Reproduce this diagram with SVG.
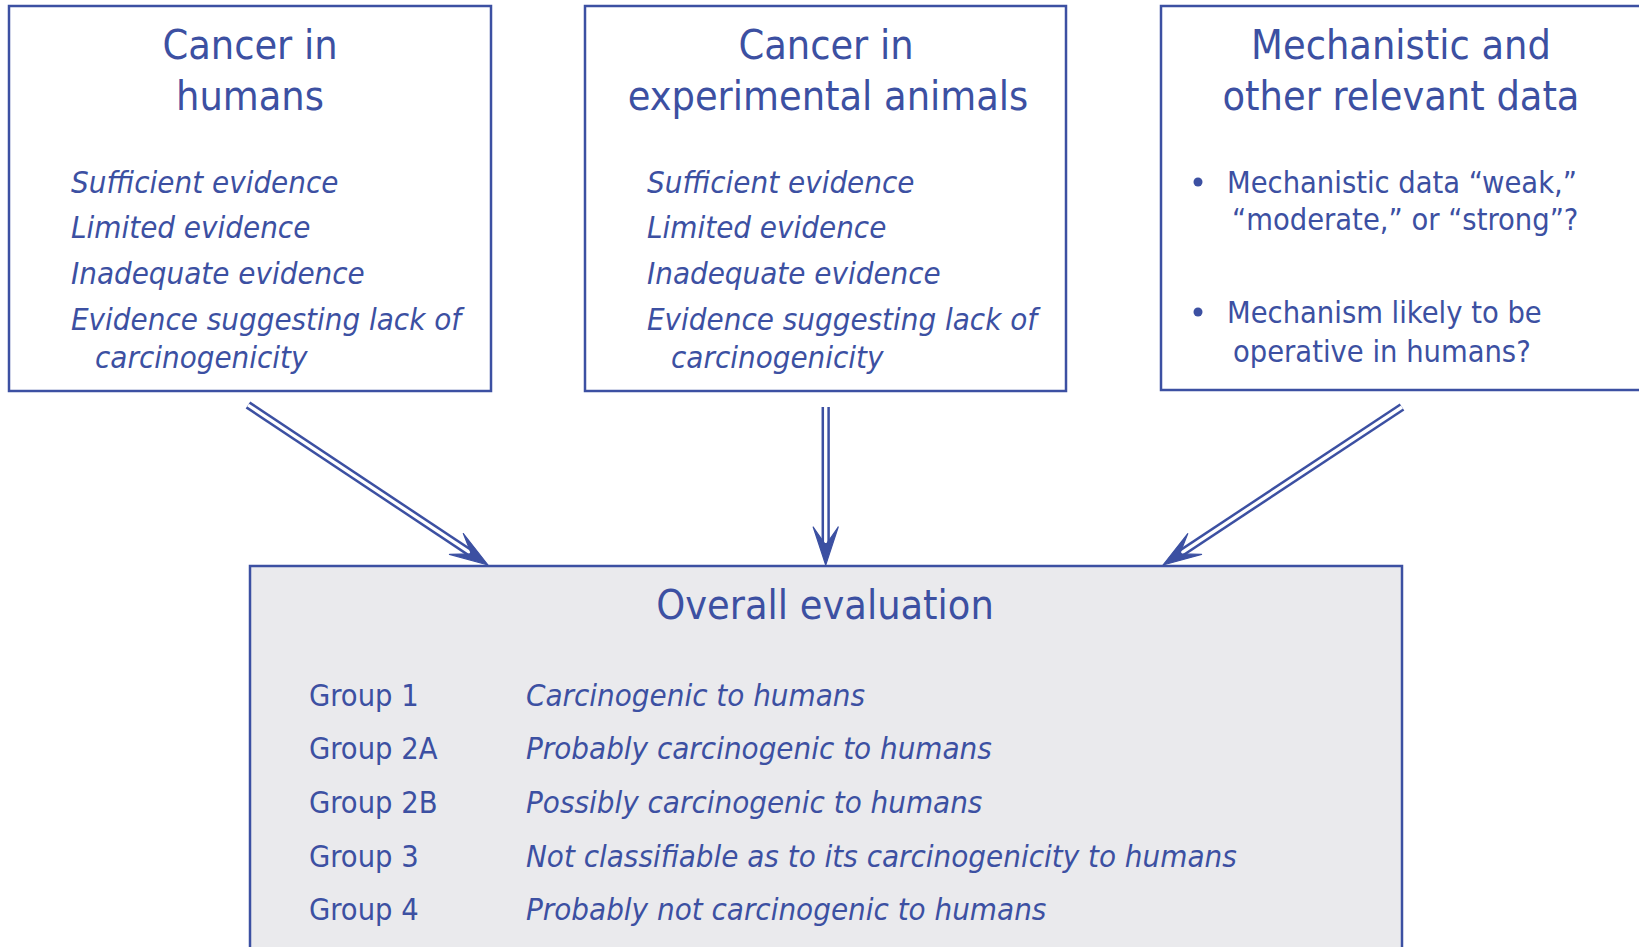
<svg xmlns="http://www.w3.org/2000/svg" width="1639" height="947" viewBox="0 0 1639 947">
<style>
text { font-family: "DejaVu Sans Condensed", "DejaVu Sans", sans-serif; fill: #3C50A2; }
.title { font-size: 41px; text-anchor: middle; }
.it { font-size: 31px; font-style: italic; }
.body { font-size: 30.5px; }
.box { fill: #FFFFFF; stroke: #3C50A2; stroke-width: 2.5; }
.evalbox { fill: #EAEAED; stroke: #3C50A2; stroke-width: 2.5; }
.outer { fill: none; stroke: #3C50A2; stroke-width: 8.3; }
.inner { fill: none; stroke: #FFFFFF; stroke-width: 3.3; }
.head { fill: #3C50A2; stroke: #3C50A2; stroke-width: 1.2; stroke-linejoin: round; }
.dot { fill: #3C50A2; }
</style>
<defs>
<path id="arrowhead" class="head" d="M-38,-12.5 L0,0 L-38,12.5 L-20,0 Z"/>
</defs>
<rect width="1639" height="947" fill="#FFFFFF"/>

<g id="evaluation">
<rect class="evalbox" x="250" y="566" width="1152" height="420"/>
<text class="title" x="825" y="619">Overall evaluation</text>
<text class="body" x="309" y="706">Group 1</text>
<text class="body" x="309" y="759">Group 2A</text>
<text class="body" x="309" y="813">Group 2B</text>
<text class="body" x="309" y="867">Group 3</text>
<text class="body" x="309" y="920">Group 4</text>
<text class="it" x="526" y="706">Carcinogenic to humans</text>
<text class="it" x="526" y="759">Probably carcinogenic to humans</text>
<text class="it" x="526" y="813">Possibly carcinogenic to humans</text>
<text class="it" x="526" y="867">Not classifiable as to its carcinogenicity to humans</text>
<text class="it" x="526" y="920">Probably not carcinogenic to humans</text>
</g>

<g id="humans">
<rect class="box" x="9" y="6" width="482" height="385"/>
<text class="title" x="250" y="59">Cancer in</text>
<text class="title" x="250" y="110">humans</text>
<text class="it" x="71" y="193">Sufficient evidence</text>
<text class="it" x="71" y="238">Limited evidence</text>
<text class="it" x="71" y="284">Inadequate evidence</text>
<text class="it" x="71" y="330">Evidence suggesting lack of</text>
<text class="it" x="95" y="368">carcinogenicity</text>
</g>

<g id="animals">
<rect class="box" x="585" y="6" width="481" height="385"/>
<text class="title" x="826" y="59">Cancer in</text>
<text class="title" x="828" y="110">experimental animals</text>
<text class="it" x="647" y="193">Sufficient evidence</text>
<text class="it" x="647" y="238">Limited evidence</text>
<text class="it" x="647" y="284">Inadequate evidence</text>
<text class="it" x="647" y="330">Evidence suggesting lack of</text>
<text class="it" x="671" y="368">carcinogenicity</text>
</g>

<g id="mechanistic">
<rect class="box" x="1161" y="6" width="520" height="384"/>
<text class="title" x="1401" y="59">Mechanistic and</text>
<text class="title" x="1401" y="110">other relevant data</text>
<circle class="dot" cx="1198" cy="182" r="4.5"/>
<text class="body" x="1227" y="193">Mechanistic data “weak,”</text>
<text class="body" x="1232" y="230">“moderate,” or “strong”?</text>
<circle class="dot" cx="1198" cy="312" r="4.5"/>
<text class="body" x="1227" y="323">Mechanism likely to be</text>
<text class="body" x="1233" y="362">operative in humans?</text>
</g>

<g id="connectors">
<path class="outer" d="M248,405 L472,554"/>
<path class="inner" d="M248,405 L470,552.7"/>
<use href="#arrowhead" transform="translate(488,565) rotate(33.7)"/>
<path class="outer" d="M825.7,407 L825.7,546"/>
<path class="inner" d="M825.7,407 L825.7,543"/>
<use href="#arrowhead" transform="translate(825.7,565) rotate(90)"/>
<path class="outer" d="M1402,407 L1179,554.5"/>
<path class="inner" d="M1402,407 L1181.5,552.8"/>
<use href="#arrowhead" transform="translate(1163,565) rotate(146.5)"/>
</g>
</svg>
